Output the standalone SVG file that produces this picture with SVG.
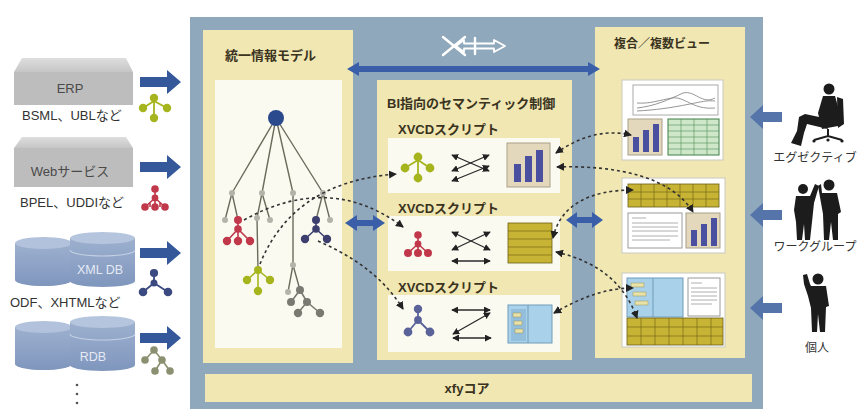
<svg xmlns="http://www.w3.org/2000/svg" width="860" height="413" viewBox="0 0 860 413">
  <defs>
    <style>
      .t { font-family: 'Liberation Sans', 'Noto Sans CJK JP', sans-serif; fill: #333; }
      .title { font-size: 13px; font-weight: bold; fill: #3a3320; }
      .lbl { font-size: 12px; fill: #333; }
      .src { font-size: 13px; fill: #333; }
      .box-t { font-size: 13px; fill: #4a4a4a; }
      .db-t { font-size: 12.5px; fill: #e4eaf4; }
      .frame { fill: #90a8bc; }
      .panel { fill: #f0e7b3; }
      .inner { fill: #fbfaf1; }
      .dash { fill: none; stroke: #333; stroke-width: 1.6; stroke-dasharray: 3 3; }
      .xa { fill: none; stroke: #2a2a2a; stroke-width: 1.3; }
      .edge { stroke: #6b6b5c; stroke-width: 1.4; fill: none; }
      .gn { fill: #b2b4aa; }
      .barL { fill: #34589a; }
      .barR { fill: #5575aa; }
      .sil { fill: #1c1c1c; }
      .card { fill: #fff; stroke: #c9c9c0; stroke-width: 1; }
      .doc { fill: #fff; stroke: #9a9a9a; stroke-width: 1; }
      .docl { stroke: #9a9a9a; stroke-width: 0.8; }
      .ytab { fill: #c8b434; stroke: #6a5e15; stroke-width: 0.8; }
      .ygrid { stroke: #6a5e15; stroke-width: 0.6; }
    </style>
    <marker id="ah" viewBox="0 0 8 8" refX="7" refY="4" markerWidth="8" markerHeight="8" markerUnits="userSpaceOnUse" orient="auto-start-reverse">
      <path d="M0,0 L8,4 L0,8 z" fill="#222"/>
    </marker>
    <marker id="sh" viewBox="0 0 8 8" refX="7" refY="4" markerWidth="7" markerHeight="7" markerUnits="userSpaceOnUse" orient="auto-start-reverse">
      <path d="M0,0 L8,4 L0,8 z" fill="#222"/>
    </marker>
    <linearGradient id="cyl" x1="0" y1="0" x2="0" y2="1">
      <stop offset="0" stop-color="#9db0cf"/>
      <stop offset="1" stop-color="#7f96bd"/>
    </linearGradient>
    <linearGradient id="boxTop" x1="0" y1="0" x2="0" y2="1">
      <stop offset="0" stop-color="#dedede"/>
      <stop offset="1" stop-color="#c6c6c6"/>
    </linearGradient>
  </defs>

  <rect width="860" height="413" fill="#ffffff"/>

  <!-- main frame -->
  <g id="frame">
    <rect class="frame" x="190" y="17" width="573" height="392"/>
  </g>

  <!-- unified information model panel -->
  <g id="model">
    <rect class="panel" x="203" y="30" width="150" height="333"/>
    <rect class="inner" x="215" y="80" width="127" height="268"/>
    <text class="t title" x="225" y="60">統一情報モデル</text>
    <g class="edge">
      <path d="M276,118 L232,193 M276,118 L262,193 M276,118 L293,193 M276,118 L323,193"/>
      <path d="M232,193 L225,220 M232,193 L238,220"/>
      <path d="M262,193 L257,218 L258,270 M262,193 L270,220"/>
      <path d="M293,193 L293,265 L288,292 M293,265 L300,290"/>
      <path d="M323,193 L316,220 M323,193 L330,220"/>
    </g>
    <circle cx="276" cy="118" r="8" fill="#2b4a8e"/>
    <g class="gn">
      <circle cx="232" cy="193" r="3"/><circle cx="262" cy="193" r="3"/>
      <circle cx="293" cy="193" r="3"/><circle cx="323" cy="193" r="3"/>
      <circle cx="225" cy="220" r="3"/><circle cx="257" cy="218" r="3"/>
      <circle cx="270" cy="220" r="3"/><circle cx="330" cy="220" r="3"/>
      <circle cx="293" cy="265" r="3"/><circle cx="288" cy="292" r="3"/>
    </g>
    <!-- red subtree -->
    <g stroke="#c0384a" stroke-width="1.6" fill="#c0384a">
      <path d="M238,220 L238,229 L227,241 M238,229 L238,241 M238,229 L250,241" fill="none"/>
      <circle cx="238" cy="220" r="3.2"/><circle cx="238" cy="229" r="3"/>
      <circle cx="227" cy="241" r="3.4"/><circle cx="238" cy="241" r="3.4"/><circle cx="250" cy="241" r="3.4"/>
    </g>
    <!-- dark blue subtree -->
    <g stroke="#3d3f6e" stroke-width="1.6" fill="#3d3f6e">
      <path d="M316,220 L316,229 L305,239 M316,229 L327,239" fill="none"/>
      <circle cx="316" cy="220" r="3.2"/><circle cx="316" cy="229" r="3"/>
      <circle cx="305" cy="239" r="3.4"/><circle cx="327" cy="239" r="3.4"/>
    </g>
    <!-- yellow-green subtree -->
    <g stroke="#a6b51e" stroke-width="1.6" fill="#a6b51e">
      <path d="M258,270 L247,280 M258,270 L270,280 M258,270 L258,291" fill="none"/>
      <circle cx="258" cy="270" r="3.2"/><circle cx="247" cy="280" r="3.4"/>
      <circle cx="270" cy="280" r="3.4"/><circle cx="258" cy="291" r="3.4"/>
    </g>
    <!-- grey subtree -->
    <g stroke="#7a7a72" stroke-width="1.6" fill="#7a7a72">
      <path d="M300,290 L291,302 M300,290 L307,302 L298,313 M307,302 L320,313" fill="none"/>
      <circle cx="300" cy="290" r="3.2"/><circle cx="291" cy="302" r="3.2"/>
      <circle cx="307" cy="302" r="3.2"/><circle cx="298" cy="313" r="3.4"/><circle cx="320" cy="313" r="3.4"/>
    </g>
  </g>

  <!-- semantic control panel -->
  <g id="semantic">
    <rect class="panel" x="377" y="80" width="195" height="280"/>
    <text class="t title" x="387" y="108">BI指向のセマンティック制御</text>
    <rect class="inner" x="388" y="138" width="172" height="55"/>
    <rect class="inner" x="388" y="216" width="172" height="55"/>
    <rect class="inner" x="388" y="295" width="172" height="57"/>
    <text class="t title" x="398" y="134">XVCDスクリプト</text>
    <text class="t title" x="398" y="213">XVCDスクリプト</text>
    <text class="t title" x="398" y="292">XVCDスクリプト</text>

    <!-- row 1 -->
    <g stroke="#a6b51e" stroke-width="1.8" fill="#a6b51e">
      <path d="M418,157 L418,178 M418,160 L405,168 M418,160 L430,168" fill="none"/>
      <circle cx="418" cy="157" r="3.5"/><circle cx="405" cy="168" r="3.5"/>
      <circle cx="430" cy="168" r="3.5"/><circle cx="418" cy="178" r="3.5"/>
    </g>
    <g class="xa">
      <path d="M452,155 L489,171" marker-start="url(#sh)" marker-end="url(#sh)"/>
      <path d="M489,155 L452,171" marker-start="url(#sh)" marker-end="url(#sh)"/>
      <path d="M452,181 L489,166" marker-start="url(#sh)" marker-end="url(#sh)"/>
    </g>
    <rect x="507" y="143" width="43" height="44" fill="#e3d8bb" stroke="#a9a08a"/>
    <g fill="#4b4fa0">
      <rect x="514" y="164" width="7" height="18"/>
      <rect x="525" y="156" width="7" height="26"/>
      <rect x="536" y="150" width="7" height="32"/>
    </g>

    <!-- row 2 -->
    <g stroke="#c0384a" stroke-width="1.6" fill="#c0384a">
      <path d="M418,235 L418,244 L408,253 M418,244 L418,253 M418,244 L428,253" fill="none"/>
      <circle cx="418" cy="235" r="3"/><circle cx="418" cy="244" r="2.6"/>
      <circle cx="408" cy="253" r="3.2"/><circle cx="418" cy="253" r="3.2"/><circle cx="428" cy="253" r="3.2"/>
    </g>
    <g class="xa">
      <path d="M452,232 L490,250" marker-start="url(#sh)" marker-end="url(#sh)"/>
      <path d="M490,232 L452,250" marker-start="url(#sh)" marker-end="url(#sh)"/>
      <path d="M452,261 L490,261" marker-start="url(#sh)" marker-end="url(#sh)"/>
    </g>
    <rect class="ytab" x="508" y="223" width="44" height="40"/>
    <g class="ygrid">
      <path d="M508,231 H552 M508,239 H552 M508,247 H552 M508,255 H552"/>
    </g>

    <!-- row 3 -->
    <g stroke="#5a6399" stroke-width="1.8" fill="#5a6399">
      <path d="M418,309 L418,320 L408,332 M418,320 L430,332" fill="none"/>
      <circle cx="418" cy="309" r="3.3"/><circle cx="418" cy="320" r="3"/>
      <circle cx="408" cy="332" r="3.5"/><circle cx="430" cy="332" r="3.5"/>
    </g>
    <g class="xa">
      <path d="M452,310 L490,310" marker-start="url(#sh)" marker-end="url(#sh)"/>
      <path d="M490,313 L453,334" marker-start="url(#sh)" marker-end="url(#sh)"/>
      <path d="M453,338 L491,338" marker-start="url(#sh)" marker-end="url(#sh)"/>
    </g>
    <rect x="508" y="305" width="44" height="38" fill="#a9d2ea" stroke="#6f9cbc"/>
    <path d="M528,305 V343" stroke="#6f9cbc"/>
    <rect x="511" y="309" width="15" height="32" fill="#93bedc"/>
    <g fill="#e8e2a6" stroke="#9b9360" stroke-width="0.5">
      <rect x="513" y="313" width="8" height="4"/>
      <rect x="514" y="321" width="8" height="4"/>
      <rect x="515" y="329" width="8" height="4"/>
    </g>
  </g>

  <!-- composite / multiple views panel -->
  <g id="views">
    <rect class="panel" x="595" y="27" width="150" height="331"/>
    <text class="t title" x="614" y="48" style="font-size:12px">複合／複数ビュー</text>

    <!-- card 1 -->
    <rect class="card" x="622" y="80" width="101" height="80"/>
    <rect x="633" y="85" width="85" height="30" fill="#fff" stroke="#aaa"/>
    <g fill="none" stroke="#8a8a8a" stroke-width="0.9">
      <path d="M637,108 C655,106 668,100 683,93 C695,90 702,105 715,98"/>
      <path d="M637,103 C650,104 660,100 672,98 C685,96 692,110 715,108"/>
      <path d="M637,111 C655,110 670,108 690,104 C700,102 708,100 715,101"/>
    </g>
    <rect x="628" y="119" width="34" height="36" fill="#e3d8bb" stroke="#a9a08a"/>
    <g fill="#4b4fa0">
      <rect x="633" y="137" width="6" height="15"/>
      <rect x="643" y="130" width="6" height="22"/>
      <rect x="653" y="124" width="6" height="28"/>
    </g>
    <rect x="668" y="119" width="51" height="36" fill="#cfe7c9" stroke="#3f7f46"/>
    <g stroke="#4f8f55" stroke-width="0.6">
      <path d="M668,125 H719 M668,131 H719 M668,137 H719 M668,143 H719 M668,149 H719"/>
      <path d="M681,119 V155 M694,119 V155 M707,119 V155"/>
    </g>

    <!-- card 2 -->
    <rect class="card" x="622" y="178" width="103" height="75"/>
    <rect class="ytab" x="628" y="184" width="91" height="23"/>
    <g class="ygrid">
      <path d="M628,192 H719 M628,199 H719"/>
      <path d="M641,184 V207 M654,184 V207 M667,184 V207 M680,184 V207 M693,184 V207 M706,184 V207"/>
    </g>
    <rect class="doc" x="628" y="213" width="54" height="35"/>
    <g class="docl">
      <path d="M632,218 H646 M632,223 H678 M632,227 H678 M632,231 H678 M632,236 H678 M632,240 H670"/>
    </g>
    <rect x="686" y="213" width="34" height="35" fill="#e3d8bb" stroke="#a9a08a"/>
    <g fill="#4b4fa0">
      <rect x="691" y="230" width="6" height="16"/>
      <rect x="701" y="224" width="6" height="22"/>
      <rect x="711" y="218" width="6" height="28"/>
    </g>

    <!-- card 3 -->
    <rect class="card" x="622" y="273" width="103" height="74"/>
    <rect x="627" y="278" width="56" height="39" fill="#a9d2ea" stroke="#6f9cbc"/>
    <path d="M653,278 V317" stroke="#6f9cbc"/>
    <g fill="#e8e2a6" stroke="#9b9360" stroke-width="0.5">
      <rect x="631" y="283" width="13" height="4"/>
      <rect x="633" y="292" width="13" height="4"/>
      <rect x="635" y="301" width="13" height="4"/>
    </g>
    <rect class="doc" x="688" y="278" width="32" height="38"/>
    <g class="docl">
      <path d="M691,283 H702 M691,288 H717 M691,292 H717 M691,296 H717 M691,300 H717 M691,304 H712"/>
    </g>
    <rect class="ytab" x="627" y="318" width="96" height="27"/>
    <g class="ygrid">
      <path d="M627,327 H723 M627,336 H723"/>
      <path d="M641,318 V345 M655,318 V345 M669,318 V345 M683,318 V345 M697,318 V345 M711,318 V345"/>
    </g>
  </g>

  <!-- core bar -->
  <g id="core">
    <rect class="panel" x="205" y="374" width="547" height="28"/>
    <text class="t title" x="467" y="393" text-anchor="middle">xfyコア</text>
  </g>

  <!-- emblem above the panels -->
  <g id="emblem" fill="none" stroke="#ffffff" stroke-width="2.4" stroke-linecap="round" stroke-linejoin="round">
    <path d="M443,37 L465,55 M443,55 L465,37"/>
    <path d="M456,46 L464,40 L464,43.5 L494,43.5 L494,40 L505,46 L494,52 L494,48.5 L464,48.5 L464,52 Z" stroke-width="1.8"/>
    <path d="M475,38 V54"/>
  </g>

  <!-- data sources -->
  <g id="erp">
    <polygon points="14,72 22,58 126,58 133,72" fill="url(#boxTop)"/>
    <rect x="14" y="72" width="119" height="33" fill="#bdbdbd"/>
    <text class="t box-t" x="70" y="93" text-anchor="middle">ERP</text>
    <text class="t src" x="22" y="120">BSML、UBLなど</text>
    <g stroke="#a6b51e" stroke-width="1.8" fill="#a6b51e">
      <path d="M154,98 L154,118 M154,101 L143,108 M154,101 L167,108" fill="none"/>
      <circle cx="154" cy="98" r="3.3"/><circle cx="143" cy="108" r="3.3"/>
      <circle cx="167" cy="108" r="3.3"/><circle cx="154" cy="118" r="3.3"/>
    </g>
  </g>

  <g id="webservice">
    <polygon points="14,148 22,137 126,137 133,148" fill="url(#boxTop)"/>
    <rect x="14" y="148" width="119" height="39" fill="#bdbdbd"/>
    <text class="t box-t" x="70" y="176" text-anchor="middle">Webサービス</text>
    <text class="t src" x="20" y="207">BPEL、UDDIなど</text>
    <g stroke="#c0384a" stroke-width="1.6" fill="#c0384a">
      <path d="M155,189 L155,198 L145,207 M155,198 L155,207 M155,198 L165,207 M150,202 L150,207 M160,202 L160,207" fill="none"/>
      <circle cx="155" cy="189" r="3"/><circle cx="155" cy="198" r="2.6"/>
      <circle cx="145" cy="207" r="3"/><circle cx="155" cy="207" r="3"/><circle cx="165" cy="207" r="3"/>
    </g>
  </g>

  <g id="xmldb">
    <path d="M15,243 V280 A28,6 0 0 0 72,280 V243 Z" fill="url(#cyl)"/>
    <ellipse cx="43.5" cy="243" rx="28.5" ry="6" fill="#b2c2dc"/>
    <path d="M70,238 V281 A32.5,6 0 0 0 135,281 V238 Z" fill="url(#cyl)"/>
    <ellipse cx="102.5" cy="238" rx="32.5" ry="6" fill="#b6c5de"/>
    <path d="M70,250 A32.5,6 0 0 0 135,250" fill="none" stroke="#c4d0e4" stroke-width="1.2"/>
    <text class="t db-t" x="100" y="274" text-anchor="middle">XML DB</text>
    <text class="t src" x="10" y="307">ODF、XHTMLなど</text>
    <g stroke="#3b4a80" stroke-width="1.8" fill="#3b4a80">
      <path d="M154,273 L154,283 L143,292 M154,283 L168,292" fill="none"/>
      <circle cx="154" cy="273" r="3.2"/><circle cx="154" cy="283" r="2.6"/>
      <circle cx="143" cy="292" r="3.4"/><circle cx="168" cy="292" r="3.4"/>
    </g>
  </g>

  <g id="rdb">
    <path d="M15,327 V364 A28,6 0 0 0 72,364 V327 Z" fill="url(#cyl)"/>
    <ellipse cx="43.5" cy="327" rx="28.5" ry="6" fill="#b2c2dc"/>
    <path d="M70,322 V365 A32.5,6 0 0 0 135,365 V322 Z" fill="url(#cyl)"/>
    <ellipse cx="102.5" cy="322" rx="32.5" ry="6" fill="#b6c5de"/>
    <path d="M70,334 A32.5,6 0 0 0 135,334" fill="none" stroke="#c4d0e4" stroke-width="1.2"/>
    <text class="t db-t" x="93" y="361" text-anchor="middle">RDB</text>
    <g stroke="#8a9070" stroke-width="1.6" fill="#8a9070">
      <path d="M145,360 L154,350 L162,360 L155,371 M162,360 L170,371" fill="none"/>
      <circle cx="145" cy="360" r="3"/><circle cx="154" cy="350" r="3"/>
      <circle cx="162" cy="360" r="3"/><circle cx="155" cy="371" r="3"/><circle cx="170" cy="371" r="3"/>
    </g>
    <g fill="#555">
      <circle cx="77" cy="385" r="1.3"/><circle cx="77" cy="394" r="1.3"/><circle cx="77" cy="403" r="1.3"/>
    </g>
  </g>

  <!-- users -->
  <g id="executive">
    <!-- chair back -->
    <path class="sil" d="M837,97 L843,99 L844,124 L838,128 Z"/>
    <circle class="sil" cx="829" cy="89" r="5.5"/>
    <path class="sil" d="M823,96 L835,96 L839,110 L838,126 L822,129 L818,113 Z"/>
    <path class="sil" d="M824,118 L805,114 L799,117 L797,131 L791,143 L801,146 L804,133 L807,124 L828,129 Z"/>
    <path d="M828,129 V137 M814,140 L828,136 L842,140" stroke="#1c1c1c" stroke-width="2" fill="none"/>
    <circle class="sil" cx="814" cy="141" r="1.6"/><circle class="sil" cx="842" cy="141" r="1.6"/><circle class="sil" cx="828" cy="140" r="1.6"/>
    <text class="t lbl" x="815" y="162" text-anchor="middle">エグゼクティブ</text>
  </g>

  <g id="workgroup">
    <circle class="sil" cx="803" cy="189" r="5"/>
    <path class="sil" d="M796,196 L810,196 L815,184 L819,186 L814,203 L812,222 L810,240 L805,240 L804,224 L802,240 L797,240 L796,222 L794,210 Z"/>
    <circle class="sil" cx="829" cy="185" r="5.5"/>
    <path class="sil" d="M822,193 L837,193 L841,212 L838,214 L838,240 L833,240 L831,222 L829,240 L824,240 L823,214 L818,186 L821,184 Z"/>
    <text class="t lbl" x="815" y="251" text-anchor="middle">ワークグループ</text>
  </g>

  <g id="individual">
    <circle class="sil" cx="818" cy="279" r="5.5"/>
    <path class="sil" d="M811,286 L826,286 L829,306 L826,307 L825,332 L820,332 L818,314 L817,332 L812,332 L811,308 L808,296 L804,284 L803,275 L807,274 L810,284 Z"/>
    <text class="t lbl" x="817" y="352" text-anchor="middle">個人</text>
  </g>

  <!-- connectors -->
  <g id="connectors">
    <!-- block arrows from the data sources -->
    <g class="barL">
      <path d="M140,77 H167 V70 L181,82 L167,94 V87 H140 Z"/>
      <path d="M140,162 H167 V155 L181,167 L167,179 V172 H140 Z"/>
      <path d="M140,248 H167 V241 L181,253 L167,265 V258 H140 Z"/>
      <path d="M140,333 H167 V326 L181,338 L167,350 V343 H140 Z"/>
    </g>
    <!-- block arrows from the users -->
    <g class="barR">
      <path d="M782,112 H763 V105 L750,117 L763,129 V122 H782 Z"/>
      <path d="M782,210 H763 V203 L750,215 L763,227 V220 H782 Z"/>
      <path d="M782,303 H763 V296 L750,308 L763,320 V313 H782 Z"/>
    </g>
    <!-- double arrows between the panels -->
    <g fill="#3a5fa8">
      <path d="M347,69 L359,62 V66 H588 V62 L600,69 L588,76 V72 H359 V76 Z"/>
      <path d="M345,223 L357,215 V220 H373 V215 L385,223 L373,231 V226 H357 V231 Z"/>
      <path d="M566,220 L577,212 V217 H592 V212 L603,220 L592,228 V223 H577 V228 Z"/>
    </g>
    <!-- dashed mappings -->
    <path class="dash" d="M244,220 Q330,172 403,227" marker-end="url(#ah)"/>
    <path class="dash" d="M260,264 C280,215 320,180 396,174" marker-end="url(#ah)"/>
    <path class="dash" d="M318,241 C350,255 382,275 403,309" marker-end="url(#ah)"/>
    <path class="dash" d="M556,153 C575,140 600,128 631,135" marker-start="url(#ah)" marker-end="url(#ah)"/>
    <path class="dash" d="M557,167 C620,165 672,178 693,212" marker-start="url(#ah)" marker-end="url(#ah)"/>
    <path class="dash" d="M553,238 C560,205 590,190 633,190" marker-start="url(#ah)" marker-end="url(#ah)"/>
    <path class="dash" d="M556,252 C600,262 625,285 637,318" marker-start="url(#ah)" marker-end="url(#ah)"/>
    <path class="dash" d="M554,313 C580,298 605,288 633,288" marker-start="url(#ah)" marker-end="url(#ah)"/>
  </g>
</svg>
